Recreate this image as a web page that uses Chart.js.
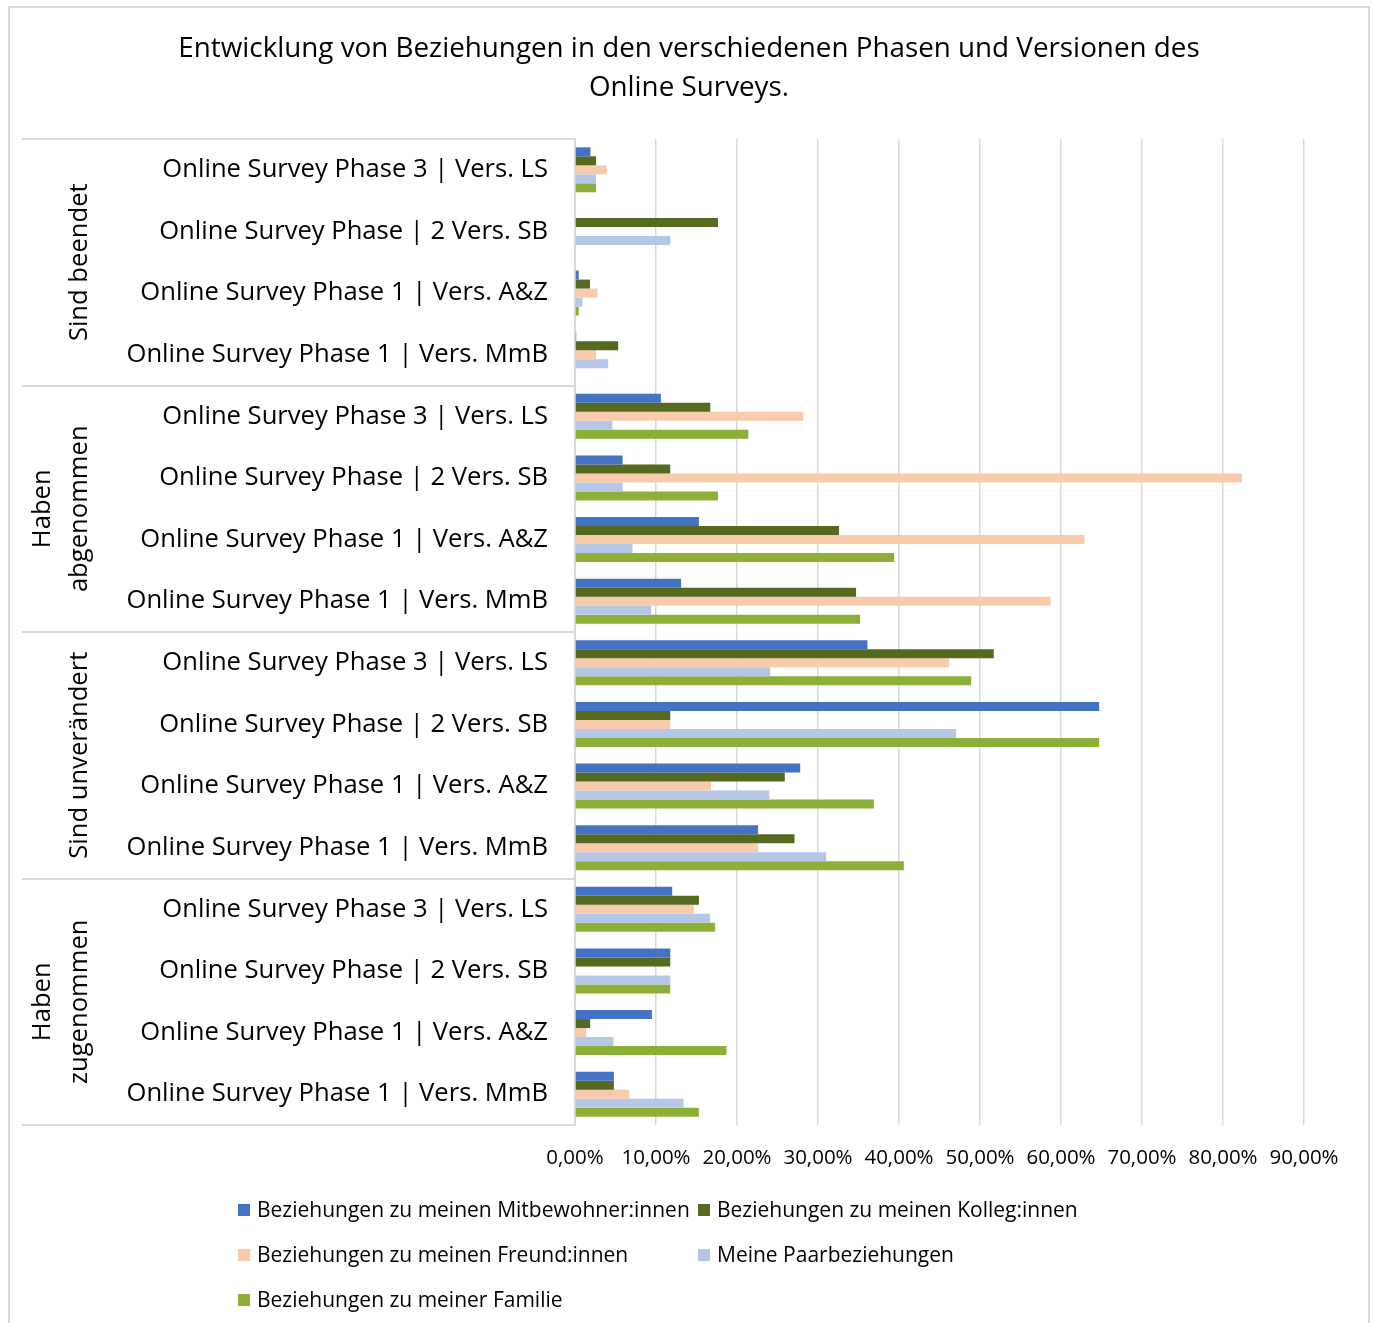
<!DOCTYPE html>
<html>
<head>
<meta charset="utf-8">
<script src="https://cdn.jsdelivr.net/npm/chart.js@4/dist/chart.umd.min.js"></script>
<style>
  html, body { margin: 0; padding: 0; background: #fff; }
  canvas { display: block; }
</style>
</head>
<body>
<canvas id="c" width="1373" height="1323"></canvas>
<script>
// Chart text
const titleLines = ['Entwicklung von Beziehungen in den verschiedenen Phasen und Versionen des', 'Online Surveys.'];

// Outer category groups (top to bottom) and their wrapped label lines
const groupLabels = [['Sind beendet'], ['Haben', 'abgenommen'], ['Sind unverändert'], ['Haben', 'zugenommen']];

// Inner categories, repeated inside every group
const surveys = [
  'Online Survey Phase 3 | Vers. LS',
  'Online Survey Phase | 2 Vers. SB',
  'Online Survey Phase 1 | Vers. A&Z',
  'Online Survey Phase 1 | Vers. MmB'
];
const categories = groupLabels.flatMap(() => surveys);

// Series names
const seriesNames = [
  'Beziehungen zu meinen Mitbewohner:innen',
  'Beziehungen zu meinen Kolleg:innen',
  'Beziehungen zu meinen Freund:innen',
  'Meine Paarbeziehungen',
  'Beziehungen zu meiner Familie'
];
const seriesColors = ['#4472C4', '#55691F', '#F8CBAD', '#B4C7E7', '#8CAF37'];

// Values in percent, in category order (beendet, abgenommen, unverändert, zugenommen × LS, SB, A&Z, MmB)
const mitbewohner = [1.9, 0, 0.46, 0.15,   10.6, 5.88, 15.3, 13.1,   36.1, 64.71, 27.8, 22.6,   12.0, 11.76, 9.5, 4.8];
const kollegen    = [2.6, 17.65, 1.85, 5.33, 16.7, 11.76, 32.6, 34.7,  51.7, 11.76, 25.9, 27.1,   15.3, 11.76, 1.87, 4.8];
const freunde     = [3.9, 0, 2.78, 2.6,    28.2, 82.35, 62.9, 58.7,   46.2, 11.76, 16.8, 22.6,   14.7, 0, 1.4, 6.7];
const paar        = [2.6, 11.76, 0.93, 4.1, 4.6, 5.88, 7.1, 9.4,      24.1, 47.06, 24.0, 31.0,   16.7, 11.76, 4.75, 13.4];
const familie     = [2.6, 0, 0.46, 0,      21.4, 17.65, 39.4, 35.2,   48.9, 64.71, 36.9, 40.6,   17.3, 11.76, 18.7, 15.3];
const seriesValues = [mitbewohner, kollegen, freunde, paar, familie];

// Value axis ticks
const axisMax = 90;
const axisStep = 10;
const formatPct = v => v.toFixed(2).replace('.', ',') + '%';

const FONT = '"Open Sans", Lato, sans-serif';
const TEXT = '#000';
const LINE = '#d9d9d9';

// Frame, title, group separators, group labels and legend
const decorations = {
  id: 'decorations',
  beforeDraw(chart) {
    const ctx = chart.ctx;
    ctx.save();
    ctx.fillStyle = '#fff';
    ctx.fillRect(0, 0, chart.width, chart.height);
    ctx.strokeStyle = LINE;
    ctx.lineWidth = 2;
    ctx.strokeRect(9, 7, 1360, 1400);
    ctx.restore();
  },
  afterDraw(chart) {
    const ctx = chart.ctx;
    const y = chart.scales.y;
    const area = chart.chartArea;
    ctx.save();

    // title
    ctx.fillStyle = TEXT;
    ctx.font = '27.8px ' + FONT;
    ctx.textAlign = 'center';
    ctx.textBaseline = 'middle';
    titleLines.forEach((t, i) => ctx.fillText(t, 689, 49 + i * 39));

    // separators between outer groups in the label area
    const n = categories.length;
    const per = surveys.length;
    const bound = i => {
      if (i === 0) return area.top;
      if (i === n) return area.bottom;
      return (y.getPixelForValue(i - 1) + y.getPixelForValue(i)) / 2;
    };
    ctx.strokeStyle = LINE;
    ctx.lineWidth = 2;
    for (let g = 0; g <= groupLabels.length; g++) {
      const yy = Math.round(bound(g * per));
      ctx.beginPath();
      ctx.moveTo(22, yy);
      ctx.lineTo(area.left, yy);
      ctx.stroke();
    }

    // rotated outer group labels
    ctx.fillStyle = TEXT;
    ctx.font = '25.6px ' + FONT;
    ctx.textAlign = 'center';
    ctx.textBaseline = 'middle';
    groupLabels.forEach((lines, g) => {
      const cy = (bound(g * per) + bound((g + 1) * per)) / 2;
      lines.forEach((t, k) => {
        const cx = 80 - (lines.length - 1 - k) * 37;
        ctx.save();
        ctx.translate(cx, cy);
        ctx.rotate(-Math.PI / 2);
        ctx.fillText(t, 0, 0);
        ctx.restore();
      });
    });

    // legend in two columns
    ctx.font = '21px ' + FONT;
    ctx.textAlign = 'left';
    const cols = [238, 698];
    const rows = [1210, 1255, 1300];
    chart.data.datasets.forEach((ds, i) => {
      const lx = cols[i % 2];
      const ly = rows[Math.floor(i / 2)];
      ctx.fillStyle = ds.backgroundColor;
      ctx.fillRect(lx, ly - 6, 12, 12);
      ctx.fillStyle = TEXT;
      ctx.fillText(ds.label, lx + 19, ly + 1);
    });
    ctx.restore();
  }
};

new Chart(document.getElementById('c'), {
  type: 'bar',
  data: {
    labels: categories,
    datasets: seriesNames.map((name, i) => ({
      label: name,
      data: seriesValues[i],
      backgroundColor: seriesColors[i],
      borderWidth: 0,
      categoryPercentage: 0.73,
      barPercentage: 1.0
    }))
  },
  options: {
    indexAxis: 'y',
    responsive: false,
    animation: false,
    layout: { padding: { top: 139, bottom: 148, left: 0, right: 69 } },
    plugins: {
      legend: { display: false },
      title: { display: false },
      tooltip: { enabled: false }
    },
    scales: {
      x: {
        min: 0,
        max: axisMax,
        ticks: {
          stepSize: axisStep,
          color: TEXT,
          font: { family: FONT, size: 20.5 },
          padding: 21,
          maxRotation: 0,
          callback: v => formatPct(v)
        },
        grid: { color: LINE, lineWidth: 1.5, drawTicks: false },
        border: { display: false },
        afterFit: s => { s.height = 50; }
      },
      y: {
        ticks: {
          color: TEXT,
          font: { family: FONT, size: 25.6 },
          padding: 19,
          autoSkip: false
        },
        grid: { display: false },
        border: { display: true, color: LINE, width: 2 },
        afterFit: s => { s.width = 575; }
      }
    }
  },
  plugins: [decorations]
});
</script>
</body>
</html>
